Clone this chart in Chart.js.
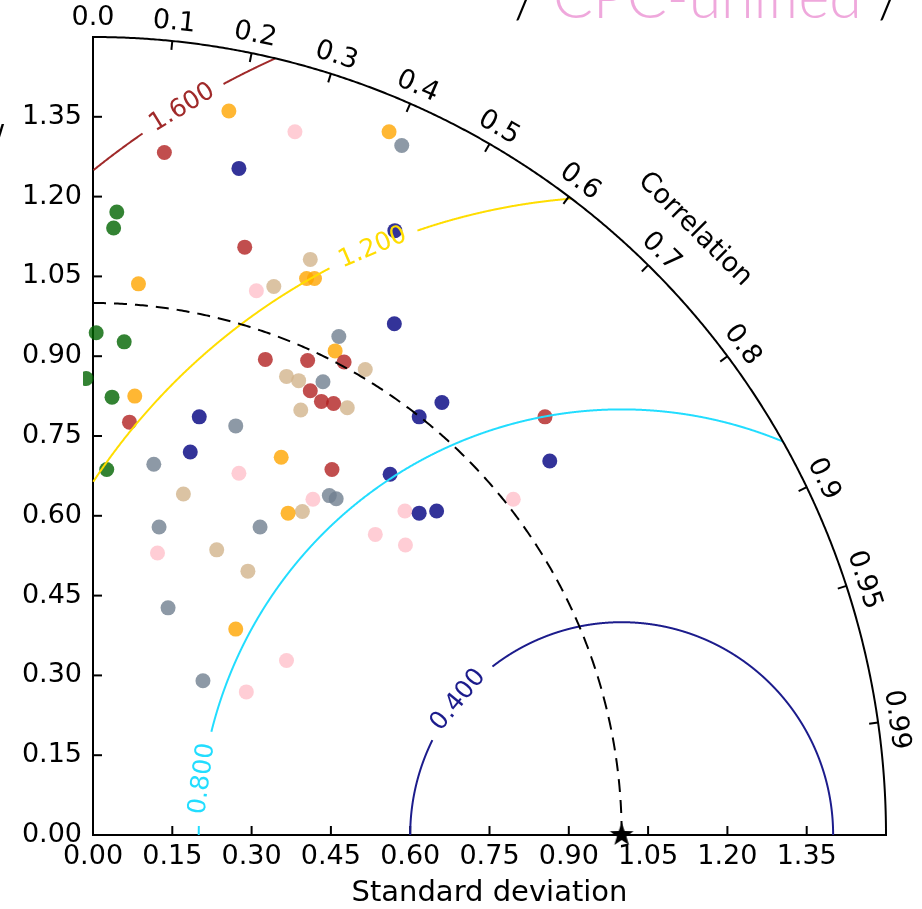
<!DOCTYPE html>
<html>
<head>
<meta charset="utf-8">
<script src="https://cdn.jsdelivr.net/npm/chart.js@4.4.0/dist/chart.umd.min.js"></script>
<style>
  html, body { margin: 0; padding: 0; background: #fff; }
</style>
</head>
<body>
<canvas id="taylor" width="922" height="909"></canvas>
<script>
// axes
const stdTicks = [0, 0.15, 0.3, 0.45, 0.6, 0.75, 0.9, 1.05, 1.2, 1.35];
const corrTicks = [0, 0.1, 0.2, 0.3, 0.4, 0.5, 0.6, 0.7, 0.8, 0.9, 0.95, 0.99];
const stdMax = 1.5;
const refStd = 1.0;

// centred RMS difference contours
const rmsLevels = [0.4, 0.8, 1.2, 1.6];
const rmsColors = ["#1c1c8c", "#22ddff", "#ffdd00", "#a02a2a"];
// label spot on each contour, degrees round the reference point, and half the gap
const rmsLabelAngle = [140.6, 172.4, 113.1, 121.3];
const rmsLabelGap = [12.9, 6.4, 4.3, 3.2];

// model points (x = std * corr, y = std * sin)
const grayX = [0.584, 0.270, 0.115, 0.125, 0.316, 0.447, 0.460, 0.465, 0.435, 0.142, 0.208];
const grayY = [1.296, 0.769, 0.697, 0.579, 0.579, 0.638, 0.632, 0.937, 0.852, 0.427, 0.290];
const tanX = [0.411, 0.342, 0.171, 0.234, 0.293, 0.396, 0.393, 0.515, 0.366, 0.389, 0.481];
const tanY = [1.082, 1.031, 0.641, 0.536, 0.496, 0.608, 0.799, 0.875, 0.862, 0.854, 0.803];
const pinkX = [0.382, 0.309, 0.276, 0.122, 0.416, 0.590, 0.534, 0.591, 0.795, 0.366, 0.290];
const pinkY = [1.322, 1.023, 0.680, 0.530, 0.631, 0.609, 0.565, 0.545, 0.631, 0.328, 0.269];
const greenX = [0.045, 0.039, 0.006, 0.059, -0.013, 0.036, 0.026];
const greenY = [1.171, 1.141, 0.944, 0.927, 0.858, 0.823, 0.687];
const navyX = [0.276, 0.571, 0.570, 0.201, 0.184, 0.617, 0.660, 0.562, 0.617, 0.650, 0.864];
const navyY = [1.253, 1.136, 0.961, 0.786, 0.720, 0.786, 0.813, 0.678, 0.605, 0.609, 0.703];
const orangeX = [0.257, 0.560, 0.404, 0.419, 0.086, 0.079, 0.458, 0.356, 0.369, 0.270];
const orangeY = [1.361, 1.322, 1.046, 1.046, 1.036, 0.825, 0.910, 0.710, 0.605, 0.387];
const redX = [0.135, 0.287, 0.069, 0.326, 0.406, 0.475, 0.411, 0.432, 0.455, 0.452, 0.855];
const redY = [1.283, 1.105, 0.776, 0.894, 0.892, 0.889, 0.835, 0.815, 0.811, 0.687, 0.786];

const groupX = [grayX, tanX, pinkX, greenX, navyX, orangeX, redX];
const groupY = [grayY, tanY, pinkY, greenY, navyY, orangeY, redY];
const groupColors = [
  "rgba(112,128,144,0.8)",
  "rgba(210,180,140,0.8)",
  "rgba(255,192,203,0.8)",
  "rgba(0,100,0,0.8)",
  "rgba(0,0,128,0.8)",
  "rgba(255,165,0,0.8)",
  "rgba(178,34,34,0.8)"
];

const FONT = "'DejaVu Sans', sans-serif";

// filled star for the reference point
const starImg = document.createElement("canvas");
starImg.width = 28;
starImg.height = 28;
(function () {
  const s = starImg.getContext("2d");
  s.fillStyle = "#000";
  s.beginPath();
  for (let k = 0; k < 10; k++) {
    const r = k % 2 ? 5 : 12.5;
    const a = -Math.PI / 2 + k * Math.PI / 5;
    const x = 14 + r * Math.cos(a), y = 14 + r * Math.sin(a);
    if (k === 0) s.moveTo(x, y); else s.lineTo(x, y);
  }
  s.closePath();
  s.fill();
})();

const datasets = groupX.map((xs, g) => ({
  data: xs.map((v, i) => ({ x: v, y: groupY[g][i] })),
  backgroundColor: groupColors[g],
  borderWidth: 0,
  pointRadius: 7.5,
  pointHoverRadius: 7.5,
  clip: { left: 10, top: 10, right: 10, bottom: 10 }
}));
// last one drawn first in chart.js, so reverse to get red on top
datasets.reverse();
datasets.unshift({
  data: [{ x: refStd, y: 0 }],
  pointStyle: starImg,
  pointRadius: 12,
  clip: false
});

function corrLabel(c) {
  return Number.isInteger(Math.round(c * 100) / 10) ? c.toFixed(1) : c.toFixed(2);
}

const taylorDecor = {
  id: "taylorDecor",
  afterDatasetsDraw(chart) {
    const ctx = chart.ctx;
    const sx = chart.scales.x, sy = chart.scales.y;
    const px = (x, y) => [sx.getPixelForValue(x), sy.getPixelForValue(y)];
    const o = px(0, 0);
    ctx.save();

    // inward ticks on the straight axes
    ctx.strokeStyle = "#000";
    ctx.lineWidth = 2;
    stdTicks.forEach(v => {
      if (v === 0) return;
      const bx = sx.getPixelForValue(v);
      ctx.beginPath(); ctx.moveTo(bx, o[1]); ctx.lineTo(bx, o[1] - 9); ctx.stroke();
      const ly = sy.getPixelForValue(v);
      ctx.beginPath(); ctx.moveTo(o[0], ly); ctx.lineTo(o[0] + 9, ly); ctx.stroke();
    });

    // rms contours with inline labels
    rmsLevels.forEach((lvl, i) => {
      ctx.strokeStyle = rmsColors[i];
      ctx.lineWidth = 2;
      ctx.setLineDash([]);
      ctx.beginPath();
      let drawing = false;
      const n = 3000;
      for (let k = 0; k <= n; k++) {
        const a = k / n * Math.PI;
        const x = refStd + lvl * Math.cos(a), y = lvl * Math.sin(a);
        const deg = a * 180 / Math.PI;
        const ok = x >= 0 && x * x + y * y <= stdMax * stdMax &&
          Math.abs(deg - rmsLabelAngle[i]) > rmsLabelGap[i];
        if (ok) {
          const p = px(x, y);
          if (drawing) ctx.lineTo(p[0], p[1]); else { ctx.moveTo(p[0], p[1]); drawing = true; }
        } else {
          drawing = false;
        }
      }
      ctx.stroke();

      const a = rmsLabelAngle[i] * Math.PI / 180;
      const p = px(refStd + lvl * Math.cos(a), lvl * Math.sin(a));
      ctx.save();
      ctx.translate(p[0], p[1]);
      ctx.rotate(Math.atan2(Math.cos(a), Math.sin(a)));
      ctx.fillStyle = rmsColors[i];
      ctx.font = "25px " + FONT;
      ctx.textAlign = "center";
      ctx.textBaseline = "middle";
      ctx.fillText(lvl.toFixed(3), 0, 0);
      ctx.restore();
    });

    // reference std arc, dashed
    ctx.strokeStyle = "#000";
    ctx.lineWidth = 2;
    ctx.setLineDash([13, 8]);
    ctx.beginPath();
    for (let k = 0; k <= 400; k++) {
      const t = Math.PI / 2 - k / 400 * Math.PI / 2;
      const p = px(refStd * Math.cos(t), refStd * Math.sin(t));
      if (k === 0) ctx.moveTo(p[0], p[1]); else ctx.lineTo(p[0], p[1]);
    }
    ctx.stroke();
    ctx.setLineDash([]);

    // outer correlation arc
    ctx.beginPath();
    for (let k = 0; k <= 600; k++) {
      const t = k / 600 * Math.PI / 2;
      const p = px(stdMax * Math.cos(t), stdMax * Math.sin(t));
      if (k === 0) ctx.moveTo(p[0], p[1]); else ctx.lineTo(p[0], p[1]);
    }
    ctx.stroke();

    // correlation ticks and labels
    ctx.fillStyle = "#000";
    ctx.font = "27px " + FONT;
    ctx.textAlign = "center";
    ctx.textBaseline = "middle";
    corrTicks.forEach(c => {
      const t = Math.acos(c);
      const p = px(stdMax * Math.cos(t), stdMax * Math.sin(t));
      const dx = o[0] - p[0], dy = o[1] - p[1];
      const len = Math.hypot(dx, dy);
      ctx.beginPath();
      ctx.moveTo(p[0], p[1]);
      ctx.lineTo(p[0] + dx / len * 9, p[1] + dy / len * 9);
      ctx.stroke();
      const q = px(1.535 * Math.cos(t), 1.535 * Math.sin(t));
      ctx.save();
      ctx.translate(q[0], q[1]);
      ctx.rotate(Math.PI / 2 - t);
      ctx.fillText(corrLabel(c), 0, 0);
      ctx.restore();
    });
    const cl = px(1.61 * Math.cos(Math.PI / 4), 1.61 * Math.sin(Math.PI / 4));
    ctx.save();
    ctx.translate(cl[0], cl[1]);
    ctx.rotate(Math.PI / 4);
    ctx.fillText("Correlation", 0, 0);
    ctx.restore();

    // bits of the neighbouring panels' titles, cut by the frame
    ctx.textAlign = "left";
    ctx.textBaseline = "alphabetic";
    ctx.font = "300 100px Lato, " + FONT;
    const w = ctx.measureText("CPC-unified").width;
    const size = 100 * 309 / w;
    ctx.font = "300 " + size.toFixed(1) + "px Lato, " + FONT;
    ctx.fillStyle = "#efa8dc";
    ctx.fillText("CPC-unified", 553, 18);
    ctx.fillStyle = "#000";
    ctx.fillText("/", 514, 18);
    ctx.fillText("/", 878, 18);
    ctx.font = "30px " + FONT;
    ctx.fillText("/", -6, 146);

    ctx.restore();
  }
};

new Chart(document.getElementById("taylor"), {
  type: "scatter",
  data: { datasets },
  options: {
    responsive: false,
    animation: false,
    devicePixelRatio: 1,
    layout: { padding: { left: 0, top: 37, right: 36, bottom: 0 } },
    plugins: { legend: { display: false }, tooltip: { enabled: false } },
    scales: {
      x: {
        type: "linear",
        min: 0,
        max: stdMax,
        afterBuildTicks: s => { s.ticks = stdTicks.map(v => ({ value: v })); },
        afterFit: s => { s.height = 74; },
        ticks: {
          callback: v => v.toFixed(2),
          font: { family: FONT, size: 27 },
          color: "#000",
          padding: 6,
          maxRotation: 0,
          autoSkip: false
        },
        grid: { display: false, drawTicks: false },
        border: { display: true, color: "#000", width: 2 },
        title: {
          display: true,
          text: "Standard deviation",
          color: "#000",
          font: { family: FONT, size: 29, lineHeight: 1 },
          padding: { top: 0, bottom: 1 }
        }
      },
      y: {
        type: "linear",
        min: 0,
        max: stdMax,
        afterBuildTicks: s => { s.ticks = stdTicks.map(v => ({ value: v })); },
        afterFit: s => { s.width = 93; },
        ticks: {
          callback: v => v.toFixed(2),
          font: { family: FONT, size: 27 },
          color: "#000",
          padding: 11,
          autoSkip: false
        },
        grid: { display: false, drawTicks: false },
        border: { display: true, color: "#000", width: 2 }
      }
    }
  },
  plugins: [taylorDecor]
});
</script>
</body>
</html>
